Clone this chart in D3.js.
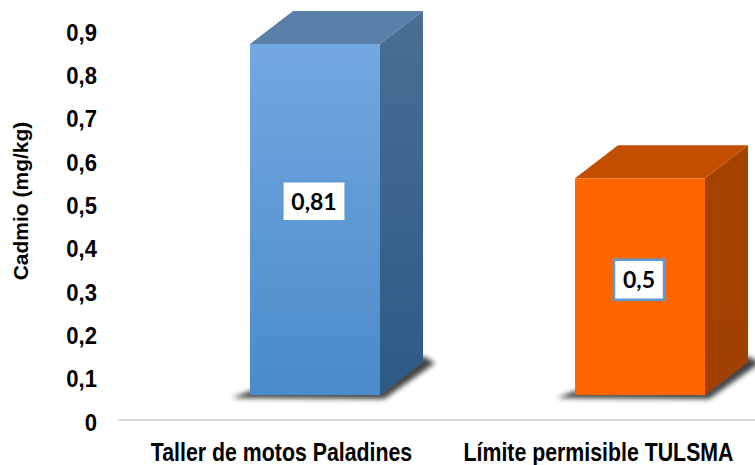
<!DOCTYPE html>
<html>
<head>
<meta charset="utf-8">
<script src="https://cdn.jsdelivr.net/npm/d3@7"></script>
<style>
  html, body { margin: 0; padding: 0; background: #fff; }
  svg { display: block; }
</style>
</head>
<body>
<svg id="chart" width="755" height="465"></svg>
<script>
// ---- data ----
const categories = ["Taller de motos Paladines", "Límite permisible TULSMA"];
const values = [0.81, 0.5];
const valueLabels = ["0,81", "0,5"];
const tickValues = [0, 0.1, 0.2, 0.3, 0.4, 0.5, 0.6, 0.7, 0.8, 0.9];
const tickLabels = ["0", "0,1", "0,2", "0,3", "0,4", "0,5", "0,6", "0,7", "0,8", "0,9"];
const yTitle = "Cadmio (mg/kg)";

// ---- layout ----
const W = 755, H = 465;
const svg = d3.select("#chart");
const depthX = 43, depthY = 33, floorShift = 27, barW = 130;

const y = d3.scaleLinear().domain([0, 0.9]).range([422, 32]);
const yFront = v => y(v) - floorShift;
const x = d3.scaleBand().domain(categories).range([152.5, 802.5]);
const xLabel = d3.scaleBand().domain(categories).range([123, 757]);

const palettes = [
  { frontTop: "#73a8df", frontBot: "#4a8bcb", top: "#5a80a9", sideTop: "#4a6e95", sideBot: "#2d5a86" },
  { frontTop: "#ff6600", frontBot: "#ff6600", top: "#c24f00", sideTop: "#a54200", sideBot: "#a04000" }
];

const defs = svg.append("defs");
defs.append("filter").attr("id", "blur").attr("x", "-50%").attr("y", "-50%").attr("width", "200%").attr("height", "200%")
  .append("feGaussianBlur").attr("stdDeviation", 2.6);
palettes.forEach((p, i) => {
  const g1 = defs.append("linearGradient").attr("id", "front" + i).attr("x1", 0).attr("y1", 0).attr("x2", 0).attr("y2", 1);
  g1.append("stop").attr("offset", "0%").attr("stop-color", p.frontTop);
  g1.append("stop").attr("offset", "100%").attr("stop-color", p.frontBot);
  const g2 = defs.append("linearGradient").attr("id", "side" + i).attr("x1", 0).attr("y1", 0).attr("x2", 0).attr("y2", 1);
  g2.append("stop").attr("offset", "0%").attr("stop-color", p.sideTop);
  g2.append("stop").attr("offset", "100%").attr("stop-color", p.sideBot);
});

// axis line
svg.append("line").attr("x1", 118).attr("x2", W).attr("y1", 420).attr("y2", 420)
  .attr("stroke", "#d9d9d9").attr("stroke-width", 2);

// tick labels
svg.append("g").selectAll("text").data(tickValues).join("text")
  .attr("transform", d => `translate(97,${y(d)}) scale(0.92,1)`)
  .attr("text-anchor", "end").attr("dy", "0.36em")
  .attr("font-family", "Liberation Sans, Arial, sans-serif").attr("font-weight", "bold")
  .attr("font-size", 24).attr("fill", "#000")
  .text((d, i) => tickLabels[i]);

// y title
svg.append("text")
  .attr("transform", "translate(28,201) rotate(-90)")
  .attr("text-anchor", "middle")
  .attr("font-family", "Liberation Sans, Arial, sans-serif").attr("font-weight", "bold")
  .attr("font-size", 21).attr("fill", "#000")
  .text(yTitle);

// bars
const bars = svg.append("g").selectAll("g").data(categories).join("g");
bars.each(function (c, i) {
  const g = d3.select(this);
  const cx = x(c) + x.bandwidth() / 2;
  const x0 = cx - barW / 2, x1 = cx + barW / 2;
  const top = yFront(values[i]), bot = yFront(0);
  // shadow
  g.append("polygon")
    .attr("points", [[x0 - 18, bot + 3], [x1 + 4, bot + 4], [x1 + depthX + 12, bot - depthY + 1],
                     [x1 + depthX, bot - depthY - 6], [x1, bot - 4], [x0, bot - 4]].map(p => p.join(",")).join(" "))
    .attr("fill", "#222").attr("opacity", 0.85).attr("filter", "url(#blur)");
  // side
  g.append("polygon")
    .attr("points", [[x1, top], [x1 + depthX, top - depthY], [x1 + depthX, bot - depthY], [x1, bot]].map(p => p.join(",")).join(" "))
    .attr("fill", `url(#side${i})`);
  // top
  g.append("polygon")
    .attr("points", [[x0, top], [x0 + depthX, top - depthY], [x1 + depthX, top - depthY], [x1, top]].map(p => p.join(",")).join(" "))
    .attr("fill", palettes[i].top);
  // front
  g.append("rect").attr("x", x0).attr("y", top).attr("width", barW).attr("height", bot - top)
    .attr("fill", `url(#front${i})`);
  // value label
  const ly = top + (bot - top) * (i === 0 ? 0.448 : 0.468);
  const t = g.append("text").attr("x", cx - 1).attr("y", ly).attr("dy", "0.36em")
    .attr("text-anchor", "middle")
    .attr("font-family", "Lato, Open Sans, sans-serif").attr("font-weight", "bold")
    .attr("font-size", 23).attr("fill", "#000").text(valueLabels[i]);
  const tw = t.node().getComputedTextLength();
  g.insert("rect", "text").attr("x", cx - 1 - tw / 2 - 9).attr("y", ly - 20)
    .attr("width", tw + 18).attr("height", 40)
    .attr("fill", "#fff").attr("stroke", "#5b9bd5").attr("stroke-width", 2.5);
});

// category labels
svg.append("g").selectAll("text").data(categories).join("text")
  .attr("transform", d => `translate(${xLabel(d) + xLabel.bandwidth() / 2},461) scale(0.82,1)`)
  .attr("text-anchor", "middle")
  .attr("font-family", "Liberation Sans, Arial, sans-serif").attr("font-weight", "bold")
  .attr("font-size", 26).attr("fill", "#000")
  .text(d => d);
</script>
</body>
</html>
